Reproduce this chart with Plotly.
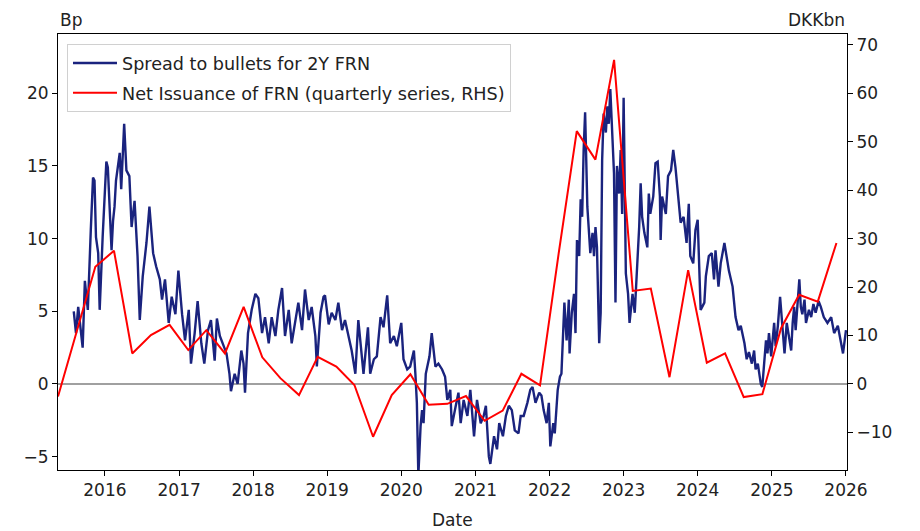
import numpy as np
import pandas as pd
import plotly.graph_objects as go

# ---- Data: spread to bullets for 2Y FRN (Bp, left axis); time as decimal year ----
spread_t = [
    2015.58, 2015.61, 2015.64, 2015.68, 2015.70, 2015.73, 2015.77, 2015.81, 2015.84, 2015.86,
    2015.88, 2015.91, 2015.93, 2015.97, 2016.02, 2016.04, 2016.06, 2016.09, 2016.11, 2016.13,
    2016.15, 2016.20, 2016.22, 2016.26, 2016.29, 2016.33, 2016.36, 2016.40, 2016.44, 2016.47,
    2016.51, 2016.56, 2016.60, 2016.65, 2016.69, 2016.74,
    2016.77, 2016.81, 2016.86, 2016.90, 2016.95, 2016.99, 2017.04, 2017.08, 2017.13, 2017.16,
    2017.21, 2017.25, 2017.30, 2017.34, 2017.39, 2017.43, 2017.48, 2017.51, 2017.55, 2017.60,
    2017.64, 2017.68, 2017.70, 2017.75, 2017.79, 2017.84, 2017.87, 2017.89, 2017.93, 2017.98,
    2018.03, 2018.07,
    2018.12, 2018.16, 2018.21, 2018.25, 2018.30, 2018.34, 2018.39, 2018.43, 2018.48, 2018.52,
    2018.57, 2018.61, 2018.66, 2018.70, 2018.75, 2018.79, 2018.84, 2018.86, 2018.91, 2018.95,
    2018.97, 2019.02, 2019.06, 2019.11, 2019.15, 2019.20, 2019.24, 2019.29, 2019.33, 2019.38,
    2019.42,
    2019.49, 2019.55, 2019.58, 2019.63, 2019.67, 2019.72, 2019.76, 2019.81, 2019.85, 2019.90,
    2019.94, 2020.00, 2020.03, 2020.08, 2020.12, 2020.17, 2020.19, 2020.21, 2020.23, 2020.26,
    2020.28, 2020.30, 2020.33, 2020.38, 2020.41, 2020.46, 2020.50, 2020.55, 2020.59, 2020.62,
    2020.66, 2020.68, 2020.73, 2020.77,
    2020.80, 2020.84, 2020.89, 2020.93, 2020.98, 2021.02, 2021.07, 2021.11, 2021.14, 2021.18,
    2021.20, 2021.25, 2021.29, 2021.32, 2021.37, 2021.41, 2021.45, 2021.49, 2021.53, 2021.58,
    2021.61, 2021.65, 2021.70, 2021.74, 2021.77, 2021.81, 2021.86, 2021.89, 2021.92, 2021.96,
    2021.99, 2022.01, 2022.05, 2022.07, 2022.11, 2022.14,
    2022.16, 2022.18, 2022.20, 2022.23, 2022.26, 2022.27, 2022.30, 2022.33, 2022.35, 2022.37,
    2022.40, 2022.42, 2022.44, 2022.46, 2022.48, 2022.51, 2022.53, 2022.55, 2022.58, 2022.60,
    2022.62, 2022.64, 2022.67, 2022.69, 2022.71, 2022.73, 2022.76, 2022.78, 2022.80, 2022.82,
    2022.85, 2022.87, 2022.89, 2022.91, 2022.94, 2022.96, 2022.98, 2023.00, 2023.03, 2023.06,
    2023.08, 2023.12, 2023.15, 2023.18, 2023.21, 2023.23, 2023.25, 2023.28, 2023.32, 2023.34,
    2023.36, 2023.40, 2023.43, 2023.46, 2023.49,
    2023.50, 2023.52, 2023.57, 2023.60, 2023.64, 2023.67, 2023.70, 2023.74, 2023.77, 2023.81,
    2023.85, 2023.88, 2023.90, 2023.94, 2023.97, 2024.00, 2024.02, 2024.04, 2024.09, 2024.11,
    2024.15, 2024.19, 2024.22, 2024.24, 2024.28, 2024.31, 2024.36, 2024.39, 2024.42, 2024.47,
    2024.51, 2024.55, 2024.58, 2024.63, 2024.66, 2024.69, 2024.73, 2024.76, 2024.78,
    2024.81, 2024.85, 2024.87, 2024.90, 2024.92, 2024.94, 2024.96, 2024.99, 2025.01, 2025.03,
    2025.05, 2025.08, 2025.11, 2025.14, 2025.17, 2025.20, 2025.23, 2025.26, 2025.28, 2025.30,
    2025.32, 2025.35, 2025.37, 2025.39, 2025.41, 2025.44, 2025.46, 2025.50, 2025.53, 2025.56,
    2025.59, 2025.63, 2025.66, 2025.70, 2025.75, 2025.80, 2025.84, 2025.89, 2025.93, 2025.96,
    2026.00,
]
spread_bp = [
    5.0, 3.5, 5.3, 3.3, 2.5, 7.1, 5.1, 10.6, 14.2, 14.0,
    10.1, 9.0, 5.1, 10.1, 15.3, 14.9, 12.7, 9.2, 11.2, 12.2,
    14.0, 15.9, 13.4, 17.9, 14.7, 14.3, 10.8, 12.6, 8.8, 4.4,
    7.4, 9.7, 12.2, 9.0, 8.1, 7.2,
    5.8, 7.2, 4.2, 6.0, 4.8, 7.8, 4.8, 3.0, 5.1, 1.4,
    3.5, 5.7, 2.8, 1.4, 3.7, 4.4, 1.6, 4.5, 3.3, 2.6,
    2.1, 0.7, -0.5, 0.7, 0.0, 2.3, 1.4, -0.6, 3.5, 5.1,
    6.2, 5.9,
    3.5, 4.6, 2.8, 4.6, 3.3, 5.1, 6.6, 3.3, 5.1, 2.8,
    4.4, 5.6, 3.7, 6.5, 4.4, 5.3, 3.3, 1.2, 4.9, 6.0,
    6.1, 4.1, 4.9, 4.4, 5.6, 3.7, 4.4, 3.3, 2.3, 0.7,
    4.4,
    0.7, 3.9, 0.7, 1.7, 1.9, 4.6, 3.9, 6.1, 2.8, 3.3,
    2.6, 4.2, 1.7, 1.0, 1.2, 2.3, 0.7, -1.3, -6.3, -2.9,
    -1.8, -2.7, 0.7, 1.9, 3.5, 1.2, 1.4, 1.0, 0.5, -1.1,
    -0.4, -2.9, -1.6, -0.6,
    -2.7, -1.1, -2.2, -0.4, -3.6, -1.1, -2.7, -2.2, -1.5, -5.0,
    -5.5, -3.6, -4.5, -2.7, -3.6, -2.2, -1.5, -1.8, -3.2, -3.4,
    -2.2, -2.2, -1.3, -0.4, -0.2, -1.3, -0.6, -0.8, -1.8, -2.7,
    -1.3, -4.3, -2.7, -3.4, -0.4, 0.5,
    0.7, 3.5, 5.6, 3.0, 5.8, 2.1, 4.9, 6.2, 3.5, 9.9,
    8.8, 12.7, 11.5, 16.1, 18.7, 12.2, 10.1, 9.0, 10.4, 8.8,
    10.8, 9.4, 2.8, 4.9, 15.4, 18.6, 17.3, 19.1, 17.9, 20.3,
    16.8, 14.5, 5.6, 15.0, 13.1, 16.1, 11.7, 19.7, 7.6, 6.2,
    4.2, 6.2, 4.9, 7.6, 10.8, 13.8, 11.5, 10.4, 9.4, 13.1,
    11.7, 12.9, 15.2, 15.3, 12.9,
    9.9, 12.9, 11.7, 14.3, 14.7, 16.1, 14.9, 12.9, 11.1, 11.5,
    9.7, 12.4, 8.8, 8.3, 10.6, 11.3, 7.8, 5.1, 5.6, 7.4,
    8.8, 9.0, 7.2, 9.2, 6.7, 8.3, 9.7, 8.8, 7.8, 6.7,
    4.6, 3.7, 4.0, 2.8, 1.7, 2.2, 1.4, 2.3, 1.0,
    1.4, 0.0, -0.2, 1.9, 3.0, 2.1, 3.5, 1.9, 3.0, 4.2,
    2.6, 4.0, 6.0, 3.7, 2.1, 4.2, 3.3, 2.3, 4.2, 5.3,
    3.7, 5.8, 7.2, 5.3, 4.8, 5.8, 4.2, 5.1, 4.6, 5.5,
    4.9, 5.7, 5.3, 4.6, 4.2, 4.6, 3.5, 4.0, 3.0, 2.1,
    3.7,
]

# ---- Data: net issuance of FRN, quarterly (DKKbn, right axis) ----
issuance_dates = [
    "2015-05-15", "2015-08-15", "2015-11-15",
    "2016-02-15", "2016-05-15", "2016-08-15", "2016-11-15",
    "2017-02-15", "2017-05-15", "2017-08-15", "2017-11-15",
    "2018-02-15", "2018-05-15", "2018-08-15", "2018-11-15",
    "2019-02-15", "2019-05-15", "2019-08-15", "2019-11-15",
    "2020-02-15", "2020-05-15", "2020-08-15", "2020-11-15",
    "2021-02-15", "2021-05-15", "2021-08-15", "2021-11-15",
    "2022-02-15", "2022-05-15", "2022-08-15", "2022-11-15",
    "2023-02-15", "2023-05-15", "2023-08-15", "2023-11-15",
    "2024-02-15", "2024-05-15", "2024-08-15", "2024-11-15",
    "2025-02-15", "2025-05-15", "2025-08-15", "2025-11-15",
]
issuance_dkkbn = [
    -2.6, 10.8, 24.2,
    27.5, 6.3, 10.1, 12.2,
    7.0, 11.1, 6.3, 15.9,
    5.5, 1.2, -2.3, 5.6,
    3.6, -0.2, -10.9, -2.3,
    2.0, -4.3, -4.1, -2.5,
    -7.6, -5.5, 2.1, -0.3,
    27.0, 52.2, 46.3, 66.9,
    19.2, 19.7, 1.4, 23.5,
    4.4, 6.3, -2.7, -2.1,
    11.5, 18.4, 17.0, 29.1,
]

left_ticks = [-5, 0, 5, 10, 15, 20]
right_ticks = [-10, 0, 10, 20, 30, 40, 50, 60, 70]
year_ticks = [str(y) for y in range(2016, 2027)]


def yr2date(y):
    yi = int(np.floor(y))
    start = pd.Timestamp(yi, 1, 1)
    end = pd.Timestamp(yi + 1, 1, 1)
    return start + (end - start) * (y - yi)


spread_dates = [yr2date(t) for t in spread_t]

FONT = "DejaVu Sans"
TXT = "#222222"
FS = 17
fig = go.Figure()
fig.add_trace(go.Scatter(
    x=spread_dates, y=spread_bp, mode="lines", name="Spread to bullets for 2Y FRN",
    line=dict(color="#1a237e", width=2.4), yaxis="y", legendgroup="a",
))
fig.add_trace(go.Scatter(
    x=pd.to_datetime(issuance_dates), y=issuance_dkkbn, mode="lines",
    name="Net Issuance of FRN (quarterly series, RHS)",
    line=dict(color="#ff0000", width=2), yaxis="y2", legendgroup="b",
))

fig.add_shape(type="line", xref="paper", x0=0, x1=1, yref="y", y0=0, y1=0,
              line=dict(color="#808080", width=1.5), layer="below")

tickfont = dict(family=FONT, size=FS, color=TXT)
# The page body adds an 8px offset; the figure is sized so the plot box lands at
# x 58..847, y 34..470 of the 920x531 window.
fig.update_layout(
    width=904, height=523,
    margin=dict(l=50, r=65, t=26, b=61, autoexpand=False),
    paper_bgcolor="white", plot_bgcolor="white",
    font=dict(family=FONT, size=FS, color=TXT),
    showlegend=True,
    legend=dict(x=0.0114, y=0.977, xanchor="left", yanchor="top",
                bgcolor="rgba(255,255,255,0.85)", bordercolor="#d0d0d0", borderwidth=1,
                font=dict(family=FONT, size=17.6, color=TXT),
                traceorder="grouped", tracegroupgap=4, itemwidth=44),
    xaxis=dict(
        type="date", range=["2015-05-15", "2026-01-06"],
        tickvals=[f"{y}-01-01" for y in year_ticks], ticktext=year_ticks,
        ticks="outside", ticklen=5, tickcolor="black", tickfont=tickfont,
        showline=True, linecolor="black", linewidth=1, mirror=True,
        showgrid=False, zeroline=False, automargin=False,
    ),
    yaxis=dict(
        range=[-5.92, 24.08], tickvals=left_ticks,
        ticks="outside", ticklen=5, tickcolor="black", tickfont=tickfont,
        showline=True, linecolor="black", linewidth=1,
        showgrid=False, zeroline=False, automargin=False,
    ),
    yaxis2=dict(
        range=[-17.76, 72.24], tickvals=right_ticks, overlaying="y", side="right",
        ticks="outside", ticklen=5, tickcolor="black", tickfont=tickfont,
        showline=True, linecolor="black", linewidth=1,
        showgrid=False, zeroline=False, automargin=False,
    ),
    annotations=[
        dict(text="Bp", xref="paper", yref="paper", x=0, y=1, xanchor="left", yanchor="bottom",
             yshift=2, showarrow=False, font=dict(family=FONT, size=FS, color=TXT)),
        dict(text="DKKbn", xref="paper", yref="paper", x=1, y=1, xanchor="right", yanchor="bottom",
             yshift=2, showarrow=False, font=dict(family=FONT, size=FS, color=TXT)),
        dict(text="Date", xref="paper", yref="paper", x=0.5, y=0, xanchor="center", yanchor="top",
             yshift=-38, showarrow=False, font=dict(family=FONT, size=FS, color=TXT)),
    ],
)

fig.write_html("out.html")
